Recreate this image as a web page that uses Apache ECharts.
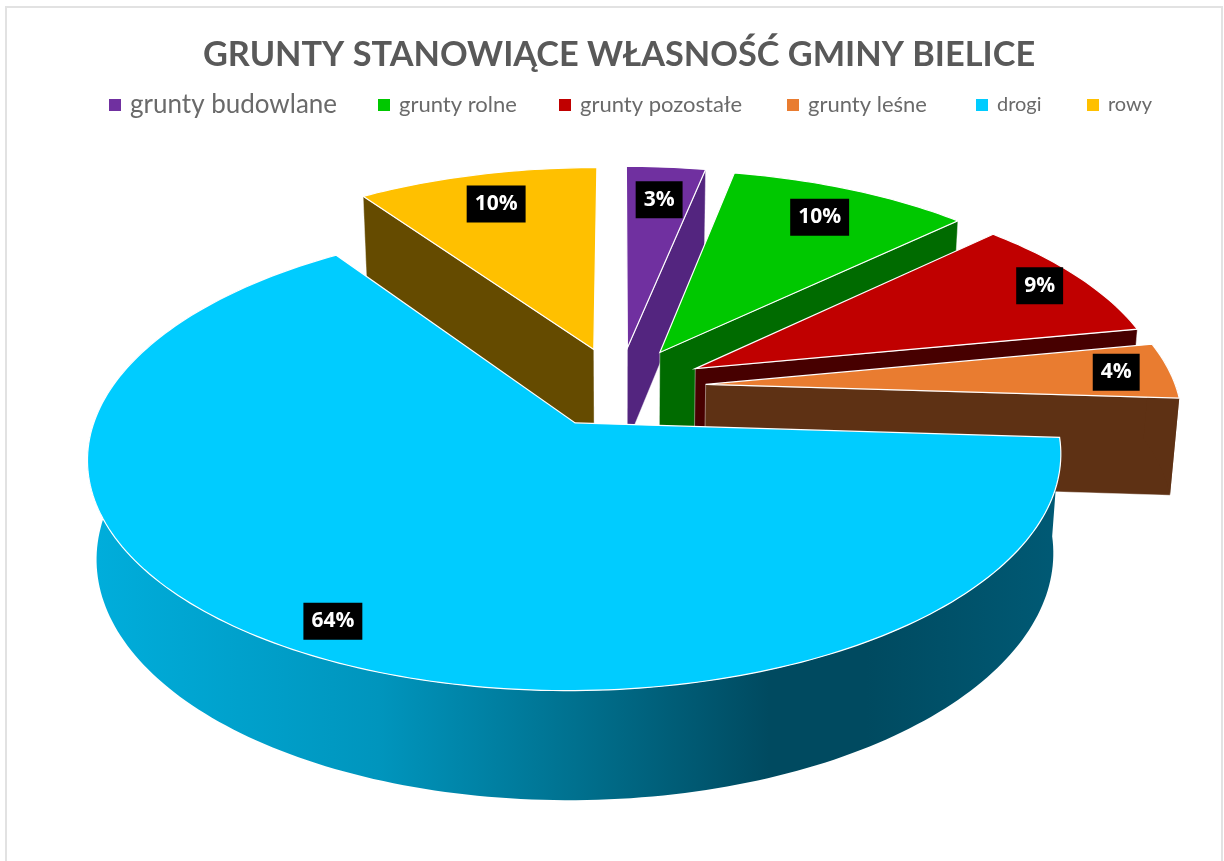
<!DOCTYPE html>
<html lang="pl">

<head>
	<meta charset="utf-8">
	<title>Grunty stanowiące własność gminy Bielice</title>
	<style>
		html, body { margin: 0; padding: 0; background: #fff; }
		#panel { width: 1224px; height: 861px; }
	</style>
</head>

<body>
	<div id="panel"></div>
	<script src="https://cdn.jsdelivr.net/npm/echarts@6/dist/echarts.min.js"></script>
	<script type="text/javascript">
		// dane
		const categories = ['grunty budowlane', 'grunty rolne', 'grunty pozostałe', 'grunty leśne', 'drogi', 'rowy'];
		const values = [3.15, 9.65, 9.15, 4.05, 64.4, 9.6];
		const topColors = ['#7030a0', '#00c800', '#c00000', '#e97c30', '#00ccff', '#ffc000'];
		const wallColors = ['#53257f', '#006b00', '#470000', '#5e3114', '#00536b', '#654b00'];

		// kamera: rzut perspektywiczny koła na ekran
		const cam = { cx: 619, cy: 425, A: 482, B: 229, D: 100, p: 0.147, q: 0.017 };
		const pieCenterY = 0.17;
		const explode = 0.185;
		const labelRadius = [0.80, 0.815, 0.895, 0.885, 0.885, 0.815];

		const total = values.reduce((a, b) => a + b, 0);
		let acc = 0;
		const angles = values.map((v) => {
			const a = [acc / total * Math.PI * 2, (acc + v) / total * Math.PI * 2];
			acc += v;
			return a;
		});

		function project(x, y, z) {
			const w = 1 + cam.p * y + cam.q * z;
			return [cam.cx + cam.A * x / w, cam.cy + (-cam.B * y + cam.D * z) / w];
		}

		function renderSlice(params) {
			const i = params.seriesIndex;
			const [a0, a1] = angles[i];
			const mid = (a0 + a1) / 2;
			const ox = explode * Math.sin(mid);
			const oy = pieCenterY + explode * Math.cos(mid);
			const at = (r, a, z) => project(ox + r * Math.sin(a), oy + r * Math.cos(a), z);

			const steps = Math.max(8, Math.ceil((a1 - a0) / 0.02));
			const topArc = [];
			const bottomArc = [];
			for (let s = 0; s <= steps; s++) {
				const a = a0 + (a1 - a0) * s / steps;
				topArc.push(at(1, a, 0));
				bottomArc.push(at(1, a, 1));
			}
			const xs = topArc.map((p) => p[0]);
			const wallFill = i === 4 ? {
				type: 'linear', global: true,
				x: Math.min.apply(null, xs), y: 0, x2: Math.max.apply(null, xs), y2: 0,
				colorStops: [
					{ offset: 0, color: '#00aedc' },
					{ offset: 0.3, color: '#0095bd' },
					{ offset: 0.5, color: '#00718f' },
					{ offset: 0.7, color: '#004a60' },
					{ offset: 0.8, color: '#004a60' },
					{ offset: 1, color: '#005a75' }
				]
			} : wallColors[i];

			const poly = (points, fill, stroke, lineWidth) => ({
				type: 'polygon',
				shape: { points },
				style: { fill, stroke: stroke || null, lineWidth: lineWidth || 0 },
				silent: true
			});
			const edge = (a) => poly([at(0, a, 0), at(1, a, 0), at(1, a, 1), at(0, a, 1)], wallColors[i], 'rgba(255,255,255,0.55)', 0.8);
			const children = [];
			// sciany przy krawedziach: tylko te zwrocone do widza
			if (Math.sin(a0) < -1e-6) children.push(edge(a0));
			if (Math.sin(a1) > 1e-6) children.push(edge(a1));
			// sciana zewnetrzna: tylko gdy wycinek siega przedniej polowy
			if (a1 > Math.PI / 2 && a0 < Math.PI * 1.5) {
				children.push(poly(topArc.concat(bottomArc.slice().reverse()), wallFill));
			}
			// gora wycinka
			children.push(poly([at(0, a0, 0)].concat(topArc), topColors[i], '#fff', 1.2));
			// etykieta
			const lp = at(labelRadius[i], mid, 0);
			children.push({
				type: 'text',
				x: lp[0],
				y: lp[1],
				z2: 100,
				silent: true,
				style: {
					text: Math.round(values[i] / total * 100) + '%',
					fill: '#fff',
					font: 'bold 21px "Open Sans"',
					align: 'center',
					verticalAlign: 'middle',
					backgroundColor: '#000',
					padding: [8, 8]
				}
			});
			return { type: 'group', children };
		}

		const panel = echarts.init(document.getElementById('panel'));
		const legendLeft = [109, 378, 559, 787, 976, 1087];
		const legendSize = [26, 22, 22, 22, 20, 20];
		const option = {
			animation: false,
			backgroundColor: '#fff',
			title: {
				text: 'GRUNTY STANOWIĄCE WŁASNOŚĆ GMINY BIELICE',
				left: 614,
				top: 33,
				textAlign: 'center',
				textStyle: { fontFamily: 'Lato', fontSize: 34.3, fontWeight: 'bold', color: '#595959' }
			},
			legend: categories.map((name, i) => ({
				data: [name],
				left: legendLeft[i],
				top: 105 - legendSize[i] / 2,
				padding: 0,
				icon: 'rect',
				itemWidth: 12,
				itemHeight: 12,
				selectedMode: false,
				textStyle: {
					fontFamily: 'Lato',
					fontSize: legendSize[i],
					color: '#6a6a6a',
					padding: [0, 0, 0, 4]
				}
			})),
			graphic: [{
				type: 'rect',
				silent: true,
				shape: { x: 6, y: 7, width: 1216, height: 900 },
				style: { fill: null, stroke: '#e2e2e2', lineWidth: 2 }
			}],
			series: categories.map((name, i) => ({
				type: 'custom',
				name,
				coordinateSystem: 'none',
				// rowy leza za drogami
				z: name === 'rowy' ? 1 : 2,
				itemStyle: { color: topColors[i] },
				data: [values[i]],
				renderItem: renderSlice
			}))
		};
		panel.setOption(option);
	</script>
</body>

</html>
